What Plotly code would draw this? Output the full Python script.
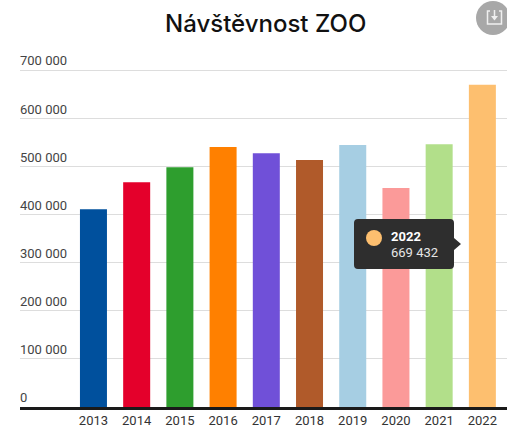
import plotly.graph_objects as go

years = [2013, 2014, 2015, 2016, 2017, 2018, 2019, 2020, 2021, 2022]
visitors = [411000, 467000, 498000, 540000, 527000, 513000, 544000, 455000, 546000, 669432]
colors = ["#00509D", "#E4002B", "#2E9E2E", "#FF8000", "#7050D8", "#B05A2A",
          "#A6CEE3", "#FB9A99", "#B2DF8A", "#FDBF6F"]
y_ticks = [0, 100000, 200000, 300000, 400000, 500000, 600000, 700000]
y_labels = ["0", "100 000", "200 000", "300 000", "400 000", "500 000", "600 000", "700 000"]
title = "Návštěvnost ZOO"
tip_label = "2022"
tip_value = "669 432"

W, H = 507, 430
L, R, T, B = 20, 0, 40, 23
def px(x): return (x - L) / (W - L - R)
def py(y): return 1 - (y - T) / (H - T - B)

fig = go.Figure(go.Bar(x=years, y=visitors, marker=dict(color=colors, line_width=0),
                       width=0.625, hoverinfo="skip"))

shapes = [
    dict(type="circle", xref="paper", yref="paper", x0=px(476), x1=px(510), y0=py(35), y1=py(1),
         fillcolor="#A8A8A8", line_width=0, layer="above"),
    dict(type="path", xref="paper", yref="paper", layer="above", fillcolor="rgba(0,0,0,0)",
         line=dict(color="#F0F0F0", width=1.5),
         path=(f"M {px(490)} {py(11)} L {px(487.5)} {py(11)} L {px(487.5)} {py(24)} "
               f"L {px(501.5)} {py(24)} L {px(501.5)} {py(11)} L {px(499)} {py(11)}")),
    dict(type="line", xref="paper", yref="paper", x0=px(494.5), x1=px(494.5), y0=py(17), y1=py(10),
         line=dict(color="#F0F0F0", width=1.5), layer="above"),
    dict(type="path", xref="paper", yref="paper", layer="above", fillcolor="#F0F0F0", line_width=0,
         path=f"M {px(491)} {py(16)} L {px(498)} {py(16)} L {px(494.5)} {py(20.5)} Z"),
    dict(type="path", xref="paper", yref="paper", layer="above", fillcolor="#2E2E2E", line_width=0,
         path=(f"M {px(358)} {py(219)} L {px(450)} {py(219)} Q {px(454)} {py(219)} {px(454)} {py(223)} "
               f"L {px(454)} {py(238)} L {px(461)} {py(244)} L {px(454)} {py(250)} L {px(454)} {py(265)} "
               f"Q {px(454)} {py(269)} {px(450)} {py(269)} L {px(358)} {py(269)} "
               f"Q {px(354)} {py(269)} {px(354)} {py(265)} L {px(354)} {py(223)} "
               f"Q {px(354)} {py(219)} {px(358)} {py(219)} Z")),
    dict(type="circle", xref="paper", yref="paper", x0=px(366), x1=px(382), y0=py(246), y1=py(230),
         fillcolor="#FDBF6F", line_width=0, layer="above"),
]

def note(text, x, y, size, color, anchor="left", family="Roboto", weight=None):
    return dict(text=text, xref="paper", yref="paper", x=px(x), y=py(y), showarrow=False,
                xanchor=anchor, yanchor="middle",
                font=dict(family=family, size=size, color=color, weight=weight))

annotations = [
    note(title, 265, 23, 24, "#111111", "center", "Inter", 500),
    note(f"<b>{tip_label}</b>", 389, 236, 13, "#FFFFFF"),
    note(tip_value, 389, 252, 13, "#E6E6E6"),
]

fig.update_layout(
    width=W, height=H, autosize=False,
    margin=dict(l=L, r=R, t=T, b=B),
    paper_bgcolor="white", plot_bgcolor="white",
    showlegend=False, shapes=shapes, annotations=annotations,
    xaxis=dict(range=[2011.3, 2022.57], tickmode="array", tickvals=years,
               ticktext=[str(v) for v in years], showgrid=False, zeroline=False,
               showline=True, linecolor="#1A1A1A", linewidth=2.5, ticks="",
               tickfont=dict(family="Roboto", size=13, color="#333333")),
    yaxis=dict(range=[0, 762315], tickmode="array", tickvals=y_ticks, ticktext=y_labels,
               ticklabelposition="inside top", ticklabelstandoff=-3,
               showgrid=True, gridcolor="#DDDDDD", gridwidth=1,
               zeroline=False, showline=False, ticks="",
               tickfont=dict(family="Roboto", size=13, color="#444444")),
)
fig.write_html("out.html", config={"displayModeBar": False},
               post_script="document.body.style.margin='0';document.body.style.overflow='hidden';")
